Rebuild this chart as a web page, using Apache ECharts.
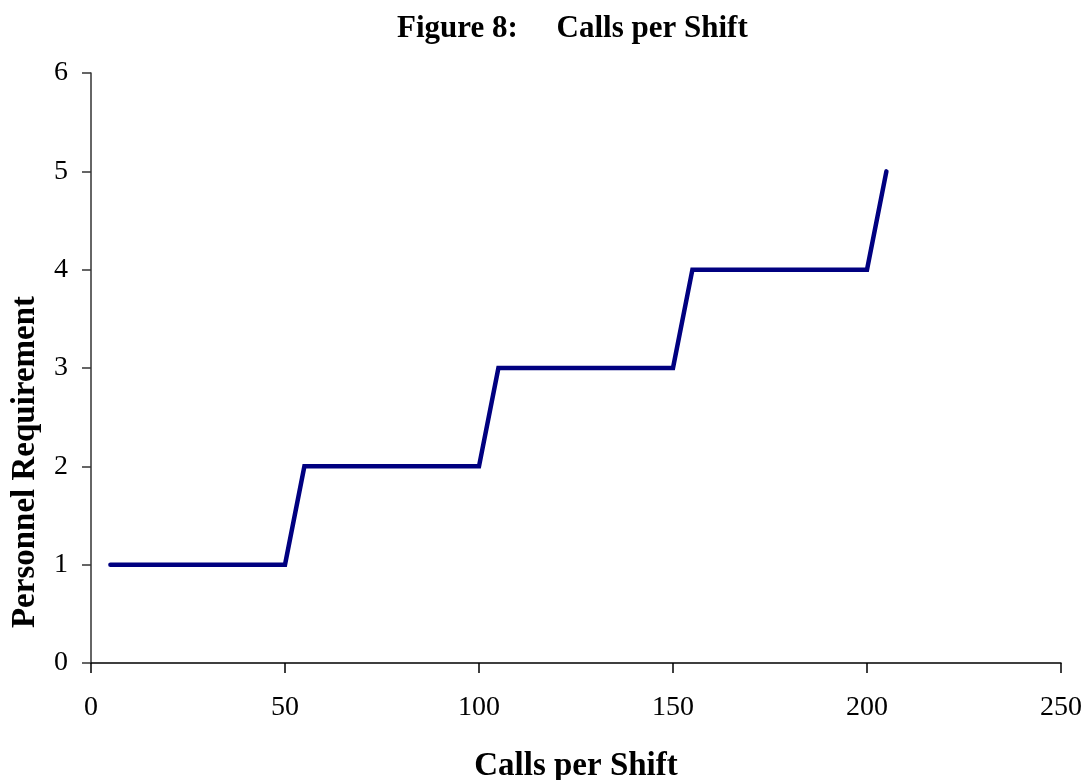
<!DOCTYPE html>
<html><head><meta charset="utf-8">
<script src="https://cdn.jsdelivr.net/npm/echarts@6/dist/echarts.min.js"></script>
<style>html,body{margin:0;padding:0;background:#fff}#c{width:1086px;height:780px}</style>
</head><body><div id="c"></div>
<script>
const callsPerShift = [5, 50, 55, 100, 105, 150, 155, 200, 205];
const personnel = [1, 1, 2, 2, 3, 3, 4, 4, 5];
const titleText = 'Figure 8:\u00a0\u00a0\u00a0\u00a0\u00a0Calls per Shift';
const xTitle = 'Calls per Shift';
const yTitle = 'Personnel Requirement';

const chart = echarts.init(document.getElementById('c'));
const font = '"Liberation Serif", "Times New Roman", serif';
chart.setOption({
  animation: false,
  backgroundColor: '#fff',
  title: {
    text: titleText, left: 392, top: 8,
    textStyle: { fontFamily: font, fontWeight: 'bold', fontSize: 31, color: '#000' }
  },
  grid: { left: 91, right: 25, top: 73, bottom: 117, containLabel: false, outerBoundsMode: 'none' },
  xAxis: {
    type: 'value', min: 0, max: 250, interval: 50,
    name: xTitle, nameLocation: 'middle', nameGap: 87,
    nameTextStyle: { fontFamily: font, fontWeight: 'bold', fontSize: 33, color: '#000' },
    axisLine: { show: true, onZero: false, lineStyle: { color: '#000', width: 1.5 } },
    axisTick: { show: true, inside: false, length: 10, lineStyle: { color: '#000', width: 1.5 } },
    axisLabel: { margin: 31, fontFamily: font, fontSize: 28, color: '#000' },
    splitLine: { show: false }
  },
  yAxis: {
    type: 'value', min: 0, max: 6, interval: 1,
    axisLine: { show: true, lineStyle: { color: '#333', width: 1.5 } },
    axisTick: { show: true, inside: false, length: 9, lineStyle: { color: '#333', width: 1.5 } },
    axisLabel: { margin: 23, fontFamily: font, fontSize: 28, color: '#000' },
    splitLine: { show: false }
  },
  graphic: [{
    type: 'text', x: 25, y: 462, rotation: Math.PI / 2,
    style: {
      text: yTitle, fontFamily: font, fontWeight: 'bold', fontSize: 33, fill: '#000',
      textAlign: 'center', textVerticalAlign: 'middle'
    }
  }],
  series: [{
    type: 'line',
    data: callsPerShift.map((x, i) => [x, personnel[i]]),
    showSymbol: false, symbol: 'none',
    lineStyle: { color: '#000080', width: 4.5, cap: 'round', join: 'miter' }
  }]
});
</script></body></html>
